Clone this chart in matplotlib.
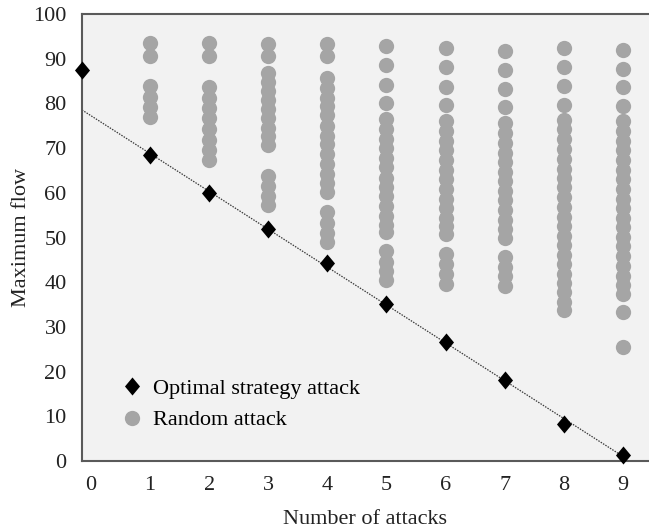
import matplotlib
matplotlib.use("Agg")
import matplotlib.pyplot as plt
import numpy as np

plt.rcParams['font.family'] = ['Liberation Serif', 'DejaVu Serif']

# optimal strategy attack (first point sits on the left axis edge)
opt_x = [-0.15, 1, 2, 3, 4, 5, 6, 7, 8, 9]
opt_y = [87.4, 68.4, 59.9, 52.0, 44.2, 35.2, 26.7, 18.2, 8.3, 1.3]

# random attack, one list per number of attacks
rand_1 = [93.5, 90.6, 83.8, 81.5, 79.2, 77.0]
rand_2 = [93.5, 90.6, 83.6, 81.3, 79.0, 76.7, 74.3, 71.8, 69.6, 67.4]
rand_3 = [93.4, 90.6, 86.9, 84.9, 82.8, 80.8, 78.7, 76.7, 74.6, 72.6, 70.6,
          63.7, 61.5, 59.3, 57.2]
rand_4 = [93.4, 90.6, 85.6, 83.4, 81.2, 79.4, 77.3, 75.0, 72.8, 70.9, 68.6,
          66.5, 64.2, 62.3, 60.1, 55.8, 53.3, 51.0, 48.9]
rand_5 = [92.8, 88.5, 84.2, 80.2, 76.5, 74.2, 72.0, 70.1, 67.9, 65.7, 63.4,
          61.3, 59.2, 57.0, 54.8, 52.9, 51.2, 46.9, 44.6, 42.5, 40.4]
rand_6 = [92.4, 88.1, 83.6, 79.6, 76.0, 73.9, 71.6, 69.5, 67.3, 65.1, 63.0,
          60.8, 58.7, 56.6, 54.4, 52.5, 50.7, 46.4, 44.0, 41.8, 39.6]
rand_7 = [91.7, 87.4, 83.2, 79.1, 75.6, 73.4, 71.2, 69.0, 66.9, 64.7, 62.6,
          60.4, 58.3, 56.1, 54.0, 52.0, 50.0, 45.7, 43.4, 41.3, 39.2]
rand_8 = [92.4, 88.1, 83.9, 79.6, 76.3, 74.2, 72.0, 69.8, 67.6, 65.4, 63.3,
          61.2, 59.0, 56.8, 54.7, 52.6, 50.4, 48.3, 46.2, 44.0, 41.9, 39.8,
          37.7, 35.6, 33.7]
rand_9 = [91.9, 87.7, 83.6, 79.4, 76.0, 73.8, 71.7, 69.5, 67.3, 65.2, 63.0,
          60.9, 58.7, 56.6, 54.4, 52.3, 50.1, 48.0, 45.8, 43.7, 41.5, 39.4,
          37.3, 33.4, 25.6]
random_cols = [rand_1, rand_2, rand_3, rand_4, rand_5, rand_6, rand_7, rand_8, rand_9]

xticks = list(range(10))
yticks = list(range(0, 101, 10))

fig = plt.figure(figsize=(6.49, 5.31), dpi=100)
ax = fig.add_axes([0.1263, 0.1318, 0.8737, 0.8418])
ax.set_facecolor("#f2f2f2")

rx, ry = [], []
for n, col in enumerate(random_cols, start=1):
    rx += [n] * len(col)
    ry += col

diamond = [(0, 1.2), (1, 0), (0, -1.2), (-1, 0), (0, 1.2)]

# linear trend of the optimal points (1..9), extended to the left edge
k, b = np.polyfit(opt_x[1:], opt_y[1:], 1)
tx = np.array([opt_x[0], opt_x[-1]])
ax.plot(tx, k * tx + b, color="#3a3a3a", linestyle=(0, (1.2, 1.0)), linewidth=0.9, zorder=2)

ax.plot(rx, ry, linestyle="none", marker="o", markersize=11, color="#a5a5a5",
        markeredgewidth=0, label="Random attack", zorder=1)
ax.plot(opt_x, opt_y, linestyle="none", marker=diamond, markersize=13, color="black",
        markeredgewidth=0, label="Optimal strategy attack", zorder=3, clip_on=False)

ax.set_xlim(-0.15, 9.44)
ax.set_ylim(0, 100)
ax.set_xticks(xticks)
ax.set_yticks(yticks)
ax.tick_params(length=0, labelsize=16, colors="#222222")
ax.tick_params(axis="x", pad=11)
ax.tick_params(axis="y", pad=11)

for s in ["left", "bottom", "top"]:
    ax.spines[s].set_color("#5a5a5a")
    ax.spines[s].set_linewidth(1.5)
ax.spines["right"].set_visible(False)

ax.set_xlabel("Number of attacks", fontsize=16, color="#222222")
ax.set_ylabel("Maximum flow", fontsize=16, color="#222222")
ax.xaxis.set_label_coords(0.5, -0.11)
ax.yaxis.set_label_coords(-0.09, 0.5)

handles, labels = ax.get_legend_handles_labels()
ax.legend(handles[::-1], labels[::-1], loc="lower left", bbox_to_anchor=(0.03, 0.024),
          frameon=False, fontsize=16, handletextpad=0.35, handlelength=1.2,
          labelspacing=0.5)

fig.savefig("out.png", dpi=100)
